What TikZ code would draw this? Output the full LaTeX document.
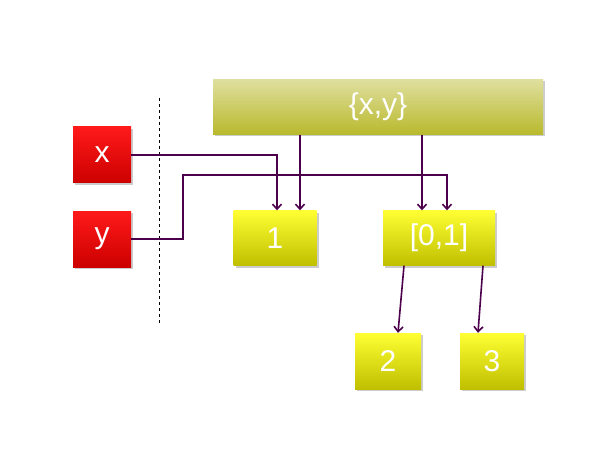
\documentclass[tikz,border=0pt]{standalone}
\usepackage{fontspec}
\setmainfont{Liberation Sans}
\usetikzlibrary{shadows,arrows.meta}

\begin{document}
\begin{tikzpicture}[x=1pt,y=-1pt,
    box/.style={draw=none,inner sep=0pt,text=white,font=\fontsize{30}{30}\selectfont,
        drop shadow={shadow xshift=2pt,shadow yshift=-2pt,opacity=0.4}},
    redbox/.style={box,top color=red!90!white,bottom color=red!80!black},
    yelbox/.style={box,top color=yellow!80!white,bottom color=yellow!75!black},
    setbox/.style={box,top color=olive!25!white,bottom color=olive!55!white},
    link/.style={draw=violet!60!black,line width=1.6pt,-{Straight Barb[length=5pt,width=9pt]}}]
    \useasboundingbox (0,0) rectangle (601,462);

    % inputs and separator
    \node[redbox,minimum width=58,minimum height=56] (x) at (102,155) {x};
    \node[redbox,minimum width=58,minimum height=56] (y) at (102,239) {y};
    \draw[dashed,thick] (159,98) -- (159,325);

    % boxes
    \node[setbox,minimum width=330,minimum height=55] (xy) at (378,107) {\{x,y\}};
    \node[yelbox,minimum width=83,minimum height=55] (one) at (275,238) {1};
    \node[yelbox,minimum width=112,minimum height=55] (unit) at (439,238) {[0,1]};
    \node[yelbox,minimum width=66,minimum height=56] (two) at (388,361) {2};
    \node[yelbox,minimum width=64,minimum height=56] (three) at (492,361) {3};

    % connectors
    \draw[link] (x.east) -- (277,155) -- (277,238 |- one.north);
    \draw[link] (y.east) -- (183,239) -- (183,175) -- (447,175) -- (447,238 |- unit.north);
    \draw[link] (300,135 |- xy.south) -- (300,238 |- one.north);
    \draw[link] (422,135 |- xy.south) -- (422,238 |- unit.north);
    \draw[link] (404,266 |- unit.south) -- (398,333 |- two.north);
    \draw[link] (483,266 |- unit.south) -- (478,333 |- three.north);
\end{tikzpicture}
\end{document}
